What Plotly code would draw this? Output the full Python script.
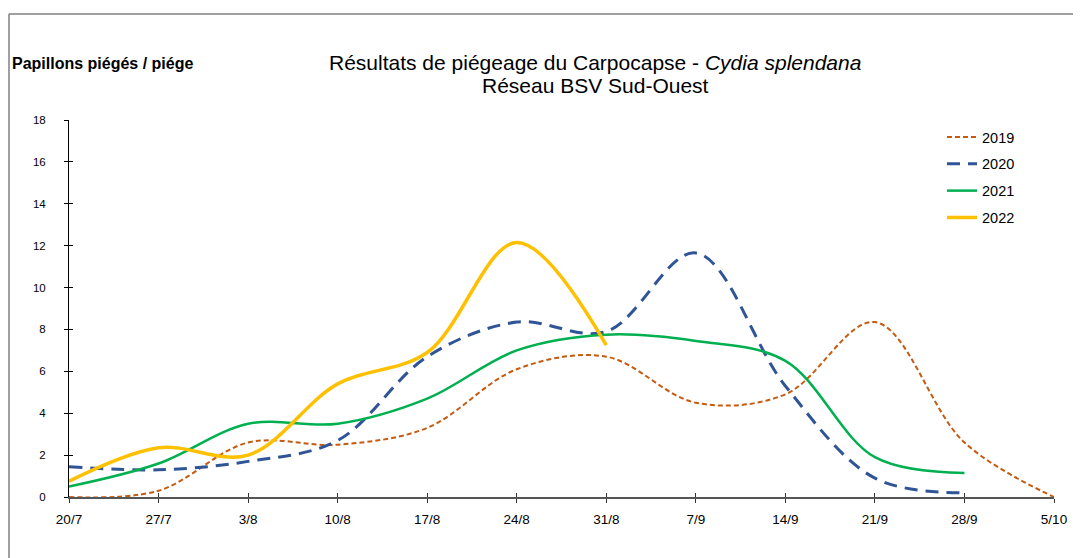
import plotly.graph_objects as go

dates = ["20/7", "27/7", "3/8", "10/8", "17/8", "24/8", "31/8", "7/9", "14/9", "21/9", "28/9", "5/10"]
y2019 = [0, 0.3, 2.6, 2.5, 3.3, 6.1, 6.7, 4.5, 4.9, 8.35, 2.6, 0]
y2020 = [1.45, 1.3, 1.7, 2.7, 6.7, 8.35, 7.9, 11.65, 5.3, 0.9, 0.2]
y2021 = [0.5, 1.6, 3.5, 3.5, 4.7, 7.0, 7.75, 7.45, 6.5, 1.9, 1.15]
y2022 = [0.75, 2.35, 2.0, 5.4, 6.9, 12.15, 7.25]
yticks = list(range(0, 19, 2))

FONT = "Liberation Sans, Arial, sans-serif"
xs = list(range(len(dates)))

fig = go.Figure()
series = [
    ("2019", y2019, dict(color="#C55A11", width=2, dash="5px,3px")),
    ("2020", y2020, dict(color="#2F5597", width=3, dash="13px,8px")),
    ("2021", y2021, dict(color="#00B050", width=2.5)),
    ("2022", y2022, dict(color="#FFC000", width=3.5)),
]
for name, ys, line in series:
    fig.add_trace(go.Scatter(
        x=xs[:len(ys)], y=ys, name=name, mode="lines", legendgroup=name,
        line=dict(shape="spline", smoothing=1.0, **line),
    ))
# invisible trace so the overlay axes (crossing ticks) are drawn
fig.add_trace(go.Scatter(x=[0], y=[0], xaxis="x2", yaxis="y2", mode="markers",
                         marker=dict(opacity=0), showlegend=False, hoverinfo="skip"))

# page has an 8px body margin: figure coords = page coords - 8
W, H = 1073, 550
L, T = 61, 112
R = W - 1046
B = H - 489
pw, ph = W - L - R, H - T - B

def px(xp):
    return (xp - L) / pw

def py(yp):
    return (H - B - yp) / ph

fig.update_layout(
    width=W, height=H,
    margin=dict(l=L, r=R, t=T, b=B),
    paper_bgcolor="white", plot_bgcolor="white",
    font=dict(family=FONT, size=12, color="#000"),
    showlegend=True,
    legend=dict(
        x=px(934), y=py(113), xanchor="left", yanchor="top",
        font=dict(family=FONT, size=14.5, color="#000"),
        bgcolor="rgba(0,0,0,0)", itemwidth=30, tracegroupgap=5,
        traceorder="grouped",
    ),
    xaxis=dict(
        range=[0, 11], tickmode="array", tickvals=xs, ticktext=dates,
        showgrid=False, zeroline=False, showline=True, linecolor="#555", linewidth=1.5,
        ticks="outside", ticklen=4, tickcolor="#333", tickwidth=1,
        tickfont=dict(size=13.5, family=FONT), ticklabelstandoff=5,
    ),
    yaxis=dict(
        range=[0, 18], tickmode="array", tickvals=yticks,
        showgrid=False, zeroline=False, showline=True, linecolor="#000", linewidth=1,
        ticks="outside", ticklen=4, tickcolor="#000",
        tickfont=dict(size=11.5, family=FONT), ticklabelstandoff=16,
    ),
    xaxis2=dict(
        range=[0, 11], overlaying="x", tickmode="array", tickvals=xs,
        showticklabels=False, showgrid=False, zeroline=False, showline=False,
        ticks="inside", ticklen=4, tickcolor="#333", side="bottom", anchor="y2",
    ),
    yaxis2=dict(
        range=[0, 18], overlaying="y", tickmode="array", tickvals=yticks,
        showticklabels=False, showgrid=False, zeroline=False, showline=False,
        ticks="inside", ticklen=4, tickcolor="#000", side="left", anchor="x2",
    ),
    shapes=[
        dict(type="line", xref="paper", yref="paper", x0=px(1), x1=px(1), y0=py(6), y1=py(600),
             line=dict(color="#7f7f7f", width=1.5)),
        dict(type="line", xref="paper", yref="paper", x0=px(1), x1=px(1100), y0=py(6), y1=py(6),
             line=dict(color="#7f7f7f", width=1.5)),
    ],
    annotations=[
        dict(text="Résultats de piégeage du Carpocapse - <i>Cydia splendana</i>",
             xref="paper", yref="paper", x=px(587), y=py(54), xanchor="center", yanchor="middle",
             showarrow=False, font=dict(family=FONT, size=21, color="#000")),
        dict(text="Réseau BSV Sud-Ouest",
             xref="paper", yref="paper", x=px(587), y=py(78), xanchor="center", yanchor="middle",
             showarrow=False, font=dict(family=FONT, size=21, color="#000")),
        dict(text="<b>Papillons piégés / piége</b>",
             xref="paper", yref="paper", x=px(2), y=py(55), xanchor="left", yanchor="middle",
             showarrow=False, font=dict(family=FONT, size=16, color="#000")),
    ],
)

fig.write_html("out.html")
